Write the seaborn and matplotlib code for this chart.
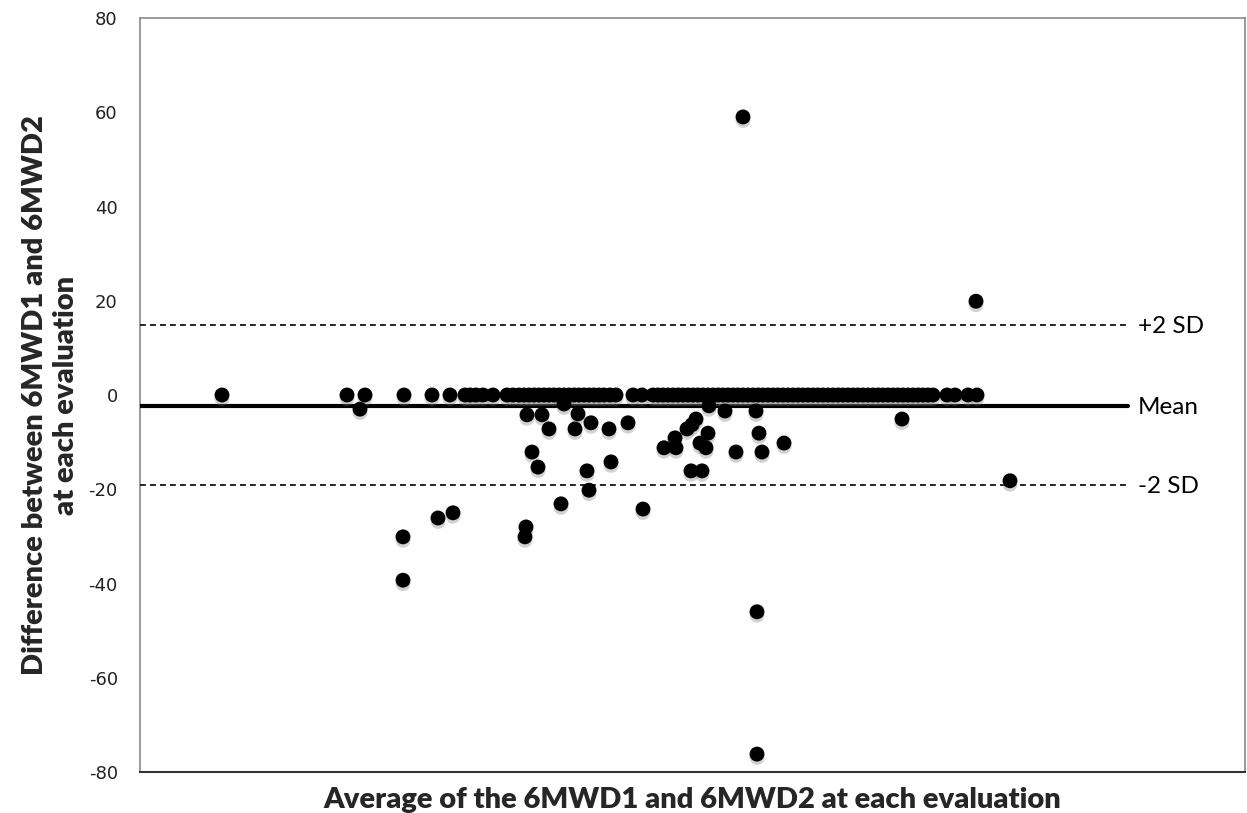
import matplotlib
matplotlib.use("Agg")
import matplotlib.pyplot as plt
import matplotlib.patheffects as pe
import seaborn as sns
import pandas as pd

# ---- data (x: average in arbitrary units, axis has no ticks) ----
zero_avg = [82, 207, 225, 264, 292, 310, 325, 330, 336, 343, 353, 367, 373, 379,
            384, 389, 394, 399, 404, 409, 414, 419, 424, 429, 434, 439, 444, 449,
            454, 459, 464, 470, 476, 493, 502, 513, 518, 523, 528, 533, 538, 543,
            548, 553, 558, 563, 568, 573, 578, 583, 588, 593, 598, 603, 608, 613,
            618, 623, 628, 633, 638, 643, 648, 653, 658, 663, 668, 673, 678, 683,
            688, 693, 698, 703, 708, 713, 718, 723, 728, 733, 738, 743, 748, 753,
            758, 763, 768, 773, 778, 783, 788, 793, 807, 815, 828, 837]
zero_diff = [0] * len(zero_avg)

other_avg = [220, 387, 402, 409, 424, 438, 435, 451, 469, 488, 392, 398, 447, 471,
             449, 421, 503, 524, 535, 569, 585, 616, 556, 552, 547, 568, 536, 560,
             566, 619, 644, 596, 622, 551, 562, 762, 263, 263, 298, 313, 386, 385,
             603, 617, 617, 836, 870]
other_diff = [-3, -4.2, -4.2, -7.2, -1.9, -4, -7.2, -5.9, -7.2, -5.9, -12.1, -15.3,
              -16.1, -14.2, -20.2, -23.1, -24.2, -11.2, -9.1, -2.3, -3.4, -3.4, -5.1,
              -6.3, -7.2, -8.1, -11.2, -10.2, -11.2, -8.1, -10.2, -12.1, -12.1,
              -16.1, -16.1, -5.1, -30.1, -39.3, -26.1, -25, -28, -30.1, 59, -46,
              -76.2, 19.9, -18.2]

mean_diff = -2.3
upper_loa = 14.9
lower_loa = -19.1
line_labels = ["+2 SD", "Mean", "-2 SD"]
y_ticks = [-80, -60, -40, -20, 0, 20, 40, 60, 80]

df = pd.DataFrame({"avg": zero_avg + other_avg, "diff": zero_diff + other_diff})

# ---- figure ----
sns.set_theme(style="white")
plt.rcParams["font.family"] = ["DejaVu Sans"]

fig = plt.figure(figsize=(12.47, 8.13), dpi=100)
ax = fig.add_axes([140 / 1247, 41 / 813, 1105 / 1247, 754 / 813])

sns.scatterplot(data=df, x="avg", y="diff", ax=ax, color="black", s=115,
                edgecolor="none", linewidth=0, zorder=4, legend=False)
for coll in ax.collections:
    coll.set_path_effects([pe.SimplePatchShadow(offset=(0, -2.5), shadow_rgbFace="gray", alpha=0.35),
                           pe.Normal()])

line_end = 988
ax.plot([0, line_end], [mean_diff, mean_diff], color="black", lw=3, zorder=3)
ax.plot([0, line_end], [upper_loa, upper_loa], color="black", lw=1.2, ls=(0, (3.5, 2.5)), zorder=3)
ax.plot([0, line_end], [lower_loa, lower_loa], color="black", lw=1.2, ls=(0, (3.5, 2.5)), zorder=3)

for lbl, yv in zip(line_labels, [upper_loa, mean_diff, lower_loa]):
    ax.text(line_end + 10, yv - 0.4, lbl, fontsize=17.5, family="Lato", va="center", ha="left",
            color="black")

ax.set_xlim(0, 1105)
ax.set_ylim(-80, 80)
ax.set_yticks(y_ticks)
ax.set_yticklabels([str(t) for t in y_ticks])
ax.set_xticks([])
ax.tick_params(axis="y", length=0, pad=16, labelsize=13, labelcolor="#222222")

for side in ["left", "top", "right"]:
    ax.spines[side].set_color("#8a8a8a")
    ax.spines[side].set_linewidth(1.2)
ax.spines["bottom"].set_color("#333333")
ax.spines["bottom"].set_linewidth(1.5)

ax.set_xlabel("Average of the 6MWD1 and 6MWD2 at each evaluation", fontsize=21,
              fontweight="heavy", family="Lato", labelpad=11)
ax.set_ylabel("Difference between 6MWD1 and 6MWD2\nat each evaluation", fontsize=21,
              fontweight="heavy", family="Lato", labelpad=7, linespacing=1.25)

fig.savefig("out.png", dpi=100)
